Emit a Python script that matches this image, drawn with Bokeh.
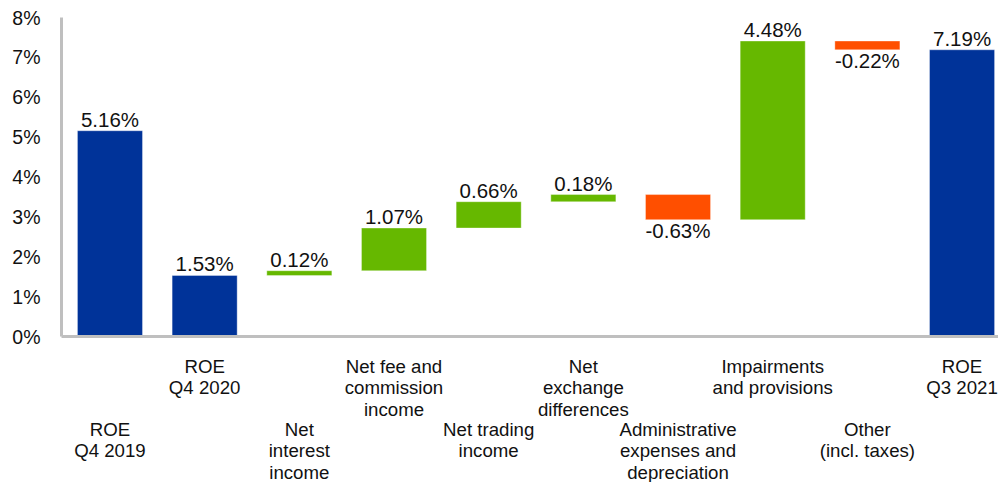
from bokeh.plotting import figure
from bokeh.models import Range1d, FixedTicker, PrintfTickFormatter, Label, LinearAxis
from bokeh.embed import file_html
from bokeh.resources import INLINE

# ---- data ----
categories = [
    "ROE\nQ4 2019",
    "ROE\nQ4 2020",
    "Net\ninterest\nincome",
    "Net fee and\ncommission\nincome",
    "Net trading\nincome",
    "Net\nexchange\ndifferences",
    "Administrative\nexpenses and\ndepreciation",
    "Impairments\nand provisions",
    "Other\n(incl. taxes)",
    "ROE\nQ3 2021",
]
values = [5.16, 1.53, 0.12, 1.07, 0.66, 0.18, -0.63, 4.48, -0.22, 7.19]
kinds = ["total", "total", "delta", "delta", "delta", "delta", "delta", "delta", "delta", "total"]
label_rows = ["low", "high", "low", "high", "low", "high", "low", "high", "low", "high"]
y_ticks = [0, 1, 2, 3, 4, 5, 6, 7, 8]

# ---- style ----
BLUE = "#003399"
GREEN = "#66B800"
ORANGE = "#FF4F00"
AXIS_GRAY = "#BFBFBF"
TEXT = "#111111"
FONT = "Liberation Sans"
FS_TICK = "19.5px"
FS_VAL = "20.5px"
FS_CAT = "18.67px"

Y0, Y1 = 0, 8
FRAME_W, FRAME_H = 937, 319
ppu = FRAME_H / (Y1 - Y0)  # pixels per data unit

# ---- waterfall geometry from data ----
bottoms, tops, colors = [], [], []
running = 0.0
for v, k in zip(values, kinds):
    if k == "total":
        b, t = 0.0, v
        running = v
        c = BLUE
    else:
        b, t = running, running + v
        running += v
        c = GREEN if v >= 0 else ORANGE
    bottoms.append(min(b, t))
    tops.append(max(b, t))
    colors.append(c)

xs = list(range(len(categories)))

p = figure(frame_width=FRAME_W, frame_height=FRAME_H,
           x_range=Range1d(-0.512, 9.385), y_range=Range1d(Y0, Y1),
           output_backend="svg", toolbar_location=None,
           min_border_left=61, min_border_right=0,
           min_border_top=17, min_border_bottom=0)
p.outline_line_color = None
p.grid.visible = False
p.background_fill_color = "white"

p.vbar(x=xs, bottom=bottoms, top=tops, width=0.687, fill_color=colors,
       line_color="white", line_alpha=0.35, line_width=1)

# y axis
ya = p.yaxis[0]
ya.ticker = FixedTicker(ticks=y_ticks)
ya.formatter = PrintfTickFormatter(format="%d%%")
ya.axis_line_color = AXIS_GRAY
ya.axis_line_width = 3
ya.major_tick_line_color = None
ya.minor_tick_line_color = None
ya.major_label_standoff = 15
ya.major_label_text_font = FONT
ya.major_label_text_font_size = FS_TICK
ya.major_label_text_color = TEXT

# x axes: upper row of category labels on the main axis, lower row on a second axis
high_over = {i: (c if r == "high" else "") for i, (c, r) in enumerate(zip(categories, label_rows))}
low_over = {i: (c if r == "low" else "") for i, (c, r) in enumerate(zip(categories, label_rows))}

def style_cat_axis(ax, standoff):
    ax.ticker = FixedTicker(ticks=xs)
    ax.major_tick_line_color = None
    ax.minor_tick_line_color = None
    ax.major_label_standoff = standoff
    ax.major_label_text_font = FONT
    ax.major_label_text_font_size = FS_CAT
    ax.major_label_text_color = TEXT
    ax.major_label_text_line_height = 1.03

xa = p.xaxis[0]
style_cat_axis(xa, 13)
xa.major_label_overrides = high_over
xa.axis_line_color = AXIS_GRAY
xa.axis_line_width = 3

xa2 = LinearAxis()
style_cat_axis(xa2, -10)
xa2.major_label_overrides = low_over
xa2.axis_line_color = None
p.add_layout(xa2, "below")

# value labels
for x, v, b, t in zip(xs, values, bottoms, tops):
    txt = f"{v:.2f}%"
    if v >= 0:
        lab = Label(x=x, y=t, text=txt, text_align="center", text_baseline="bottom",
                    text_font=FONT, text_font_size=FS_VAL, text_color=TEXT)
    else:
        lab = Label(x=x, y=b + 0.5 / ppu, text=txt, text_align="center", text_baseline="top",
                    text_font=FONT, text_font_size=FS_VAL, text_color=TEXT)
    p.add_layout(lab)

open("out.html", "w").write(file_html(p, INLINE))
